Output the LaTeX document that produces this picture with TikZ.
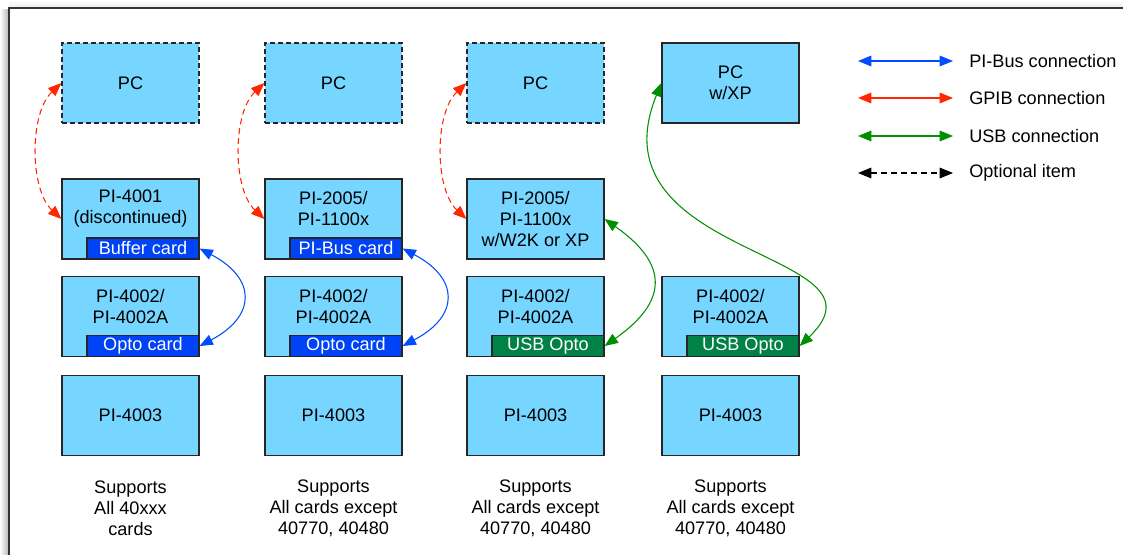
\documentclass[tikz,border=0pt]{standalone}
\usepackage{fontspec}
\setmainfont{Liberation Sans}
\usetikzlibrary{arrows.meta}
\definecolor{boxblue}{RGB}{118,214,255}
\definecolor{cardblue}{RGB}{0,66,245}
\definecolor{cardgreen}{RGB}{0,130,70}
\definecolor{busblue}{RGB}{0,76,255}
\definecolor{gpibred}{RGB}{255,38,0}
\definecolor{usbgreen}{RGB}{0,143,0}

\begin{document}
\begin{tikzpicture}[x=0.75pt,y=-0.75pt]
\tikzstyle{every node}=[font=\fontsize{13.6}{15.75}\selectfont]
\tikzstyle{unit}=[rectangle,draw=black!85,line width=0.9pt,fill=boxblue,minimum width=102.75pt,minimum height=60pt,align=center,inner sep=0pt]
\tikzstyle{optunit}=[unit,dashed,dash pattern=on 3.5pt off 2.5pt]
\tikzstyle{card}=[rectangle,draw=black!85,line width=0.9pt,text=white,minimum width=84pt,minimum height=15.75pt,inner sep=0pt,anchor=south east]
\tikzstyle{caption}=[align=center]
\tikzstyle{link}=[line width=0.8pt,{Triangle[length=10pt,width=8pt]}-{Triangle[length=10pt,width=8pt]}]
\tikzstyle{bus}=[link,busblue]
\tikzstyle{gpib}=[link,gpibred,dash pattern=on 4.5pt off 3pt]
\tikzstyle{usb}=[link,usbgreen]
\tikzstyle{opt}=[link,black,dash pattern=on 4.5pt off 3pt]
\useasboundingbox (0,0) rectangle (1123,555);
% frame
\shade[left color=white,right color=black!30] (0,10) rectangle (9,555);
\shade[top color=white,bottom color=black!8] (9,0) rectangle (1123,8);
\draw[line width=0.9pt,black!80] (9,8) rectangle (1140,570);
% column 1
\node [optunit] (pc1) at (130.5,83) {PC};
\node [unit] (cpu1) at (130.5,219) {};
\node [caption] (cpu1t) at (130.5,209) {PI-4001\\(discontinued)};
\node [card,fill=cardblue] (buf1) at (cpu1.south east) {Buffer card};
\node [unit] (io1) at (130.5,316.5) {};
\node [caption] (io1t) at (130.5,307) {PI-4002/\\PI-4002A};
\node [card,fill=cardblue] (opto1) at (io1.south east) {Opto card};
\node [unit] (dc1) at (130.5,415.5) {PI-4003};
\node [caption] (sup1) at (130.5,508) {Supports\\All 40xxx\\cards};
% column 2
\node [optunit] (pc2) at (333.5,83) {PC};
\node [unit] (cpu2) at (333.5,219) {};
\node [caption] (cpu2t) at (333.5,209) {PI-2005/\\PI-1100x};
\node [card,fill=cardblue] (bus2) at (cpu2.south east) {PI-Bus card};
\node [unit] (io2) at (333.5,316.5) {};
\node [caption] (io2t) at (333.5,307) {PI-4002/\\PI-4002A};
\node [card,fill=cardblue] (opto2) at (io2.south east) {Opto card};
\node [unit] (dc2) at (333.5,415.5) {PI-4003};
\node [caption] (sup2) at (333.5,508) {Supports\\All cards except\\40770, 40480};
% column 3
\node [optunit] (pc3) at (535.5,83) {PC};
\node [unit] (cpu3) at (535.5,219) {PI-2005/\\PI-1100x\\w/W2K or XP};
\node [unit] (io3) at (535.5,316.5) {};
\node [caption] (io3t) at (535.5,307) {PI-4002/\\PI-4002A};
\node [card,fill=cardgreen] (usb3) at (io3.south east) {USB Opto};
\node [unit] (dc3) at (535.5,415.5) {PI-4003};
\node [caption] (sup3) at (535.5,508) {Supports\\All cards except\\40770, 40480};
% column 4
\node [unit] (pc4) at (730.5,83) {PC\\w/XP};
\node [unit] (io4) at (730.5,316.5) {};
\node [caption] (io4t) at (730.5,307) {PI-4002/\\PI-4002A};
\node [card,fill=cardgreen] (usb4) at (io4.south east) {USB Opto};
\node [unit] (dc4) at (730.5,415.5) {PI-4003};
\node [caption] (sup4) at (730.5,508) {Supports\\All cards except\\40770, 40480};
% connections
\draw [gpib] (pc1.west) .. controls +(-32,30) and +(-32,-30) .. (cpu1.west);
\draw [gpib] (pc2.west) .. controls +(-32,30) and +(-32,-30) .. (cpu2.west);
\draw [gpib] (pc3.west) .. controls +(-32,30) and +(-32,-30) .. (cpu3.west);
\draw [bus] (buf1.east) .. controls +(57,30) and +(57,-30) .. (opto1.east);
\draw [bus] (bus2.east) .. controls +(57,30) and +(57,-30) .. (opto2.east);
\draw [usb] (cpu3.east) .. controls +(64,45) and +(64,-45) .. (usb3.east);
\draw [usb] (pc4.west) .. controls +(-72,177) and +(101,-96) .. (usb4.east);
% legend
\coordinate (k1a) at (858,61); \coordinate (k1b) at (953,61);
\coordinate (k2a) at (858,98); \coordinate (k2b) at (953,98);
\coordinate (k3a) at (858,136); \coordinate (k3b) at (953,136);
\coordinate (k4a) at (858,173); \coordinate (k4b) at (953,173);
\draw [bus] (k1a) -- (k1b);
\draw [gpib,dash pattern=] (k2a) -- (k2b);
\draw [usb] (k3a) -- (k3b);
\draw [opt] (k4a) -- (k4b);
\node [anchor=west,inner sep=0pt] (k1t) at (969,61) {PI-Bus connection};
\node [anchor=west,inner sep=0pt] (k2t) at (969,98) {GPIB connection};
\node [anchor=west,inner sep=0pt] (k3t) at (969,136) {USB connection};
\node [anchor=west,inner sep=0pt] (k4t) at (969,173) {Optional item};
\end{tikzpicture}
\end{document}
